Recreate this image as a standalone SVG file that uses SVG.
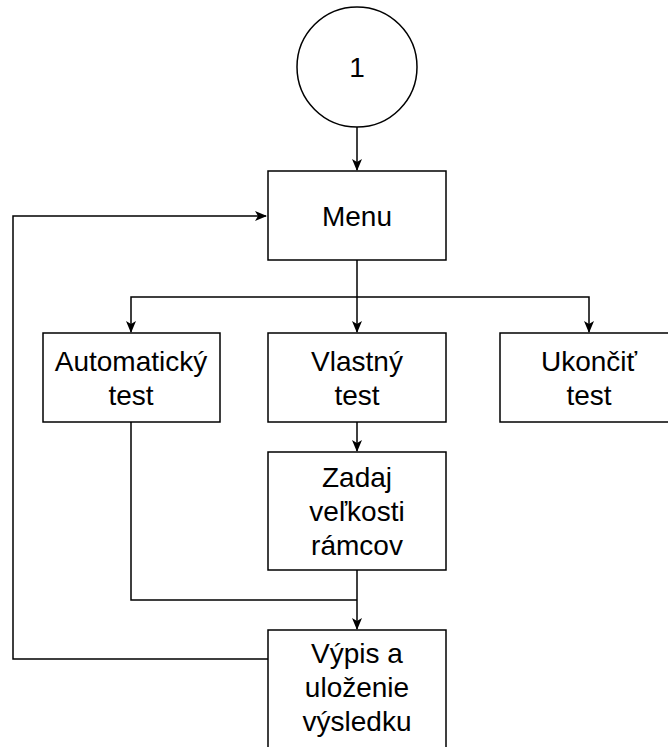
<svg xmlns="http://www.w3.org/2000/svg" width="668" height="747" viewBox="0 0 668 747">
<defs>
<style>
.box{fill:#fff;stroke:#000;stroke-width:1.5}
.lbl{font-family:"Liberation Sans",Arial,sans-serif;font-size:28px;fill:#000;text-anchor:middle}
.edge{fill:none;stroke:#000;stroke-width:1.5}
</style>
<marker id="arr" viewBox="0 0 12 12" refX="11" refY="6" markerWidth="12" markerHeight="12" markerUnits="userSpaceOnUse" orient="auto">
<path d="M0,1 L12,6 L0,11 L3,6 z" fill="#000"/>
</marker>
</defs>
<rect width="668" height="747" fill="#fff"/>
<g id="connectors">
<path class="edge" d="M357,127 L357,170" marker-end="url(#arr)"/>
<path class="edge" d="M357,260 L357,332" marker-end="url(#arr)"/>
<path class="edge" d="M357,297 L131,297 L131,332" marker-end="url(#arr)"/>
<path class="edge" d="M357,297 L589,297 L589,332" marker-end="url(#arr)"/>
<path class="edge" d="M357,422 L357,451" marker-end="url(#arr)"/>
<path class="edge" d="M357,570 L357,629" marker-end="url(#arr)"/>
<path class="edge" d="M131,422 L131,600 L357,600"/>
<path class="edge" d="M268,659 L13,659 L13,216 L266,216" marker-end="url(#arr)"/>
</g>
<g id="start">
<circle cx="357" cy="67" r="60" class="box"/>
<text class="lbl" x="357" y="77">1</text>
</g>
<g id="menu">
<rect class="box" x="268" y="171" width="178" height="89"/>
<text class="lbl" x="357" y="226">Menu</text>
</g>
<g id="auto">
<rect class="box" x="43" y="333" width="177" height="89"/>
<text class="lbl" x="131" y="371">Automatický</text>
<text class="lbl" x="131" y="405">test</text>
</g>
<g id="vlastny">
<rect class="box" x="268" y="333" width="178" height="89"/>
<text class="lbl" x="357" y="371">Vlastný</text>
<text class="lbl" x="357" y="405">test</text>
</g>
<g id="ukoncit">
<rect class="box" x="500" y="333" width="178" height="89"/>
<text class="lbl" x="589" y="371">Ukončiť</text>
<text class="lbl" x="589" y="405">test</text>
</g>
<g id="zadaj">
<rect class="box" x="268" y="452" width="178" height="118"/>
<text class="lbl" x="357" y="487">Zadaj</text>
<text class="lbl" x="357" y="521">veľkosti</text>
<text class="lbl" x="357" y="555">rámcov</text>
</g>
<g id="vypis">
<rect class="box" x="268" y="630" width="178" height="125"/>
<text class="lbl" x="357" y="663">Výpis a</text>
<text class="lbl" x="357" y="697">uloženie</text>
<text class="lbl" x="357" y="731">výsledku</text>
</g>
</svg>
